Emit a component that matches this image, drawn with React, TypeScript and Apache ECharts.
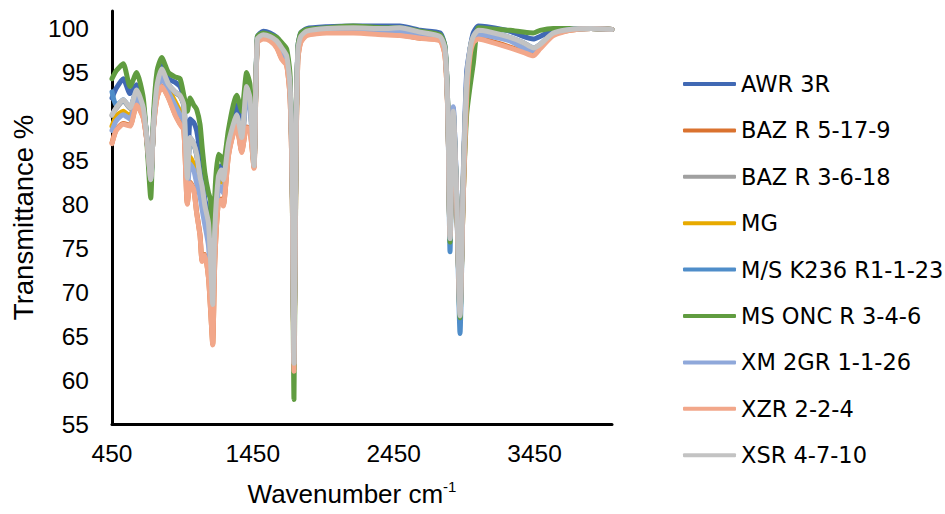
import React, { useEffect, useRef } from "react";
import * as echarts from "echarts";

// Shared wavenumber grid (cm-1) for every spectrum
const wavenumbers = [
  450, 480, 530, 578, 625, 672, 700, 725, 745, 770,
  803, 850, 897, 933, 960, 985, 1005, 1030, 1051, 1075,
  1090, 1110, 1135, 1150, 1165, 1180, 1205, 1225, 1240, 1276,
  1311, 1335, 1371, 1406, 1430, 1458, 1482, 1524, 1572, 1619,
  1655, 1690, 1714, 1730, 1742, 1756, 1770, 1790, 1832, 1974,
  2163, 2376, 2494, 2637, 2779, 2814, 2835, 2850, 2862, 2873,
  2897, 2921, 2944, 2968, 2992, 3015, 3051, 3110, 3276, 3370,
  3441, 3489, 3583, 3702, 3850, 4000,
];

const seriesNames = [
  "AWR 3R",
  "BAZ R 5-17-9",
  "BAZ R 3-6-18",
  "MG",
  "M/S K236 R1-1-23",
  "MS ONC R 3-4-6",
  "XM 2GR 1-1-26",
  "XZR 2-2-4",
  "XSR 4-7-10",
];

const seriesColors = [
  "#4169B4", "#DA722F", "#A0A0A0", "#E8AA00", "#4F8DC9",
  "#609C40", "#8FA8DA", "#F2A78A", "#C3C3C3",
];

// Transmittance % for each sample
const awr3r = [
  92.1, 93.2, 94.3, 92.6, 93.6, 91.3, 86.9, 82.4, 89.5, 94.3,
  95.8, 94.3, 93.9, 93.4, 92.1, 83.4, 89.7, 89.3, 88.4, 85.7,
  83.1, 80.5, 78.6, 74.2, 69.4, 77.9, 83.9, 84.4, 83.5, 87.6,
  90.2, 91.3, 88.7, 94.1, 92.8, 85.0, 99.1, 99.7, 99.5, 99.0,
  98.2, 97.3, 93.9, 82.4, 62.3, 86.5, 98.0, 99.5, 100.0, 100.2,
  100.3, 100.3, 100.3, 99.8, 99.5, 98.0, 90.6, 76.4, 85.4, 91.0,
  81.3, 67.9, 83.5, 95.0, 97.7, 99.5, 100.3, 100.2, 99.7, 99.1,
  98.8, 99.1, 99.8, 100.0, 100.0, 99.9,
];

const baz5179 = [
  87.0, 88.5, 89.2, 89.0, 91.4, 89.9, 86.9, 83.1, 88.8, 92.2,
  93.5, 92.2, 90.3, 89.2, 88.5, 80.1, 82.5, 81.8, 79.1, 76.5,
  73.6, 74.3, 71.7, 68.0, 64.1, 73.6, 80.3, 80.6, 79.9, 85.5,
  88.1, 89.0, 86.0, 88.8, 88.5, 84.2, 98.5, 98.9, 98.7, 97.9,
  96.6, 95.9, 92.2, 81.0, 61.2, 84.7, 96.6, 98.5, 99.3, 99.6,
  99.6, 99.4, 99.3, 98.9, 98.7, 97.0, 89.9, 76.5, 84.0, 89.6,
  80.3, 68.0, 81.0, 92.2, 97.0, 98.5, 98.9, 98.7, 97.9, 97.4,
  97.0, 97.8, 99.3, 99.8, 100.0, 99.9,
];

const baz3618 = [
  90.1, 90.9, 91.8, 90.9, 92.9, 90.9, 87.1, 82.8, 89.0, 93.5,
  95.3, 93.6, 92.7, 92.3, 91.2, 83.0, 87.5, 86.8, 85.6, 83.0,
  81.9, 79.7, 77.8, 73.4, 68.6, 77.1, 83.0, 83.8, 82.7, 86.8,
  89.0, 90.1, 87.5, 93.3, 92.0, 84.4, 98.7, 99.2, 99.0, 98.5,
  97.7, 96.8, 93.5, 82.7, 61.9, 86.4, 97.6, 99.0, 99.6, 99.9,
  100.0, 99.9, 100.0, 99.5, 99.0, 97.6, 90.1, 76.0, 84.5, 90.5,
  80.8, 67.3, 82.7, 93.8, 97.6, 99.0, 99.7, 99.6, 98.9, 98.3,
  97.7, 98.1, 99.4, 99.9, 100.0, 99.9,
];

const mg = [
  88.9, 90.0, 90.6, 90.0, 92.4, 90.6, 87.0, 83.0, 89.1, 93.2,
  94.9, 93.2, 91.7, 90.6, 89.8, 82.4, 85.4, 84.6, 83.9, 82.0,
  80.9, 79.0, 77.2, 73.1, 68.3, 76.8, 82.6, 83.1, 82.4, 86.5,
  88.7, 89.8, 87.2, 92.8, 91.7, 84.4, 98.7, 99.2, 99.0, 98.5,
  97.6, 96.7, 93.3, 82.5, 61.8, 86.2, 97.5, 99.0, 99.6, 99.9,
  100.0, 99.9, 100.0, 99.5, 99.0, 97.6, 90.3, 76.2, 84.7, 90.5,
  80.9, 67.4, 82.7, 93.7, 97.6, 99.0, 99.7, 99.6, 98.9, 98.3,
  97.7, 98.1, 99.4, 99.9, 100.0, 99.9,
];

const msK236 = [
  92.8, 91.2, 91.9, 91.0, 93.0, 91.0, 87.2, 82.8, 89.1, 93.6,
  95.4, 93.7, 92.8, 92.4, 91.3, 83.0, 87.6, 86.9, 85.7, 83.1,
  82.0, 79.8, 77.9, 73.5, 68.6, 77.2, 83.1, 83.9, 82.8, 86.9,
  89.1, 90.2, 87.6, 93.4, 92.1, 84.4, 98.8, 99.3, 99.1, 98.6,
  97.8, 96.9, 93.6, 82.8, 61.9, 86.5, 97.7, 99.1, 99.7, 100.0,
  100.1, 100.0, 100.1, 99.6, 99.1, 97.7, 90.0, 74.6, 84.4, 90.4,
  80.5, 65.3, 82.4, 93.8, 97.7, 99.1, 99.8, 99.7, 99.0, 98.4,
  97.8, 98.2, 99.5, 99.9, 100.0, 99.9,
];

const msOnc = [
  94.3, 95.2, 96.0, 93.4, 95.0, 92.1, 86.5, 80.7, 90.2, 95.2,
  96.7, 95.0, 94.5, 94.3, 92.4, 90.6, 92.1, 91.3, 90.8, 89.1,
  86.5, 83.5, 81.3, 80.5, 68.6, 80.9, 85.7, 85.4, 84.6, 88.4,
  91.3, 92.4, 90.6, 95.0, 93.6, 84.6, 99.1, 99.5, 99.3, 99.0,
  98.4, 97.7, 94.7, 80.9, 57.8, 84.6, 98.0, 99.5, 99.9, 100.1,
  100.3, 100.1, 100.1, 99.7, 99.3, 98.0, 90.6, 75.7, 84.6, 89.8,
  80.9, 67.1, 80.9, 90.2, 93.4, 96.0, 100.1, 100.0, 99.8, 99.6,
  99.5, 99.8, 100.0, 100.0, 100.0, 99.9,
];

const xm2gr = [
  88.4, 89.5, 90.2, 89.7, 92.1, 90.2, 86.9, 82.9, 88.9, 92.8,
  94.5, 92.8, 91.3, 90.2, 89.5, 81.7, 84.6, 83.9, 82.4, 80.9,
  79.4, 77.6, 75.3, 71.2, 67.5, 75.7, 81.7, 82.0, 81.3, 86.1,
  88.5, 89.5, 86.9, 92.1, 91.0, 84.3, 98.6, 99.1, 98.8, 98.2,
  97.3, 96.4, 92.8, 81.7, 61.9, 85.8, 97.1, 98.8, 99.5, 99.8,
  99.9, 99.7, 99.7, 99.3, 99.0, 97.5, 90.4, 76.1, 85.4, 91.1,
  81.3, 67.5, 82.4, 94.3, 97.7, 98.8, 99.3, 99.2, 98.6, 97.8,
  97.5, 98.1, 99.4, 99.9, 100.0, 99.9,
];

const xzr = [
  86.9, 88.4, 89.1, 88.9, 91.3, 89.8, 86.9, 83.1, 88.7, 92.1,
  93.4, 92.1, 90.2, 89.1, 88.4, 80.0, 82.4, 81.7, 79.0, 76.4,
  73.5, 74.2, 71.6, 67.9, 64.0, 73.5, 80.2, 80.5, 79.8, 85.4,
  88.0, 88.9, 85.9, 88.7, 88.4, 84.1, 98.4, 98.8, 98.6, 97.8,
  96.5, 95.8, 92.1, 80.9, 61.0, 84.6, 96.5, 98.4, 99.2, 99.5,
  99.5, 99.3, 99.2, 98.9, 98.6, 96.9, 89.8, 76.4, 83.9, 89.5,
  80.2, 67.9, 80.9, 92.1, 96.9, 98.4, 98.8, 98.6, 97.8, 97.3,
  96.9, 97.7, 99.2, 99.8, 100.0, 99.9,
];

const xsr = [
  90.2, 91.0, 91.9, 91.0, 93.0, 91.0, 87.2, 82.8, 89.1, 93.6,
  95.4, 93.7, 92.8, 92.4, 91.3, 83.0, 87.6, 86.9, 85.7, 83.1,
  82.0, 79.8, 77.9, 73.5, 68.6, 77.2, 83.1, 83.9, 82.8, 86.9,
  89.1, 90.2, 87.6, 93.4, 92.1, 84.4, 98.8, 99.3, 99.1, 98.6,
  97.8, 96.9, 93.6, 82.8, 61.9, 86.5, 97.7, 99.1, 99.7, 100.0,
  100.1, 100.0, 100.1, 99.6, 99.1, 97.7, 90.2, 76.1, 84.6, 90.6,
  80.9, 67.3, 82.8, 93.9, 97.7, 99.1, 99.8, 99.7, 99.0, 98.4,
  97.8, 98.2, 99.5, 99.9, 100.0, 99.9,
];

const spectra = [awr3r, baz5179, baz3618, mg, msK236, msOnc, xm2gr, xzr, xsr];

const xTicks = { min: 450, max: 4000, interval: 1000 };
const yTicks = { min: 55, max: 102, interval: 5 };

const sansFont = "'Liberation Sans', Arial, sans-serif";
const legendFont = "'DejaVu Sans', Verdana, sans-serif";

// Plain integer labels, no thousands separator
const plainNumber = (v: number) => String(Math.round(v));

export default function App() {
  const ref = useRef<HTMLDivElement>(null);

  useEffect(() => {
    if (!ref.current) return;
    const chart = echarts.init(ref.current, null, { renderer: "svg" });

    chart.setOption({
      animation: false,
      backgroundColor: "#ffffff",
      grid: { left: 112, right: 333, top: 11, bottom: 82, containLabel: false },
      xAxis: {
        type: "value",
        min: xTicks.min,
        max: xTicks.max,
        interval: xTicks.interval,
        axisLine: { show: true, lineStyle: { color: "#000", width: 3 } },
        axisTick: { show: false },
        splitLine: { show: false },
        axisLabel: {
          fontFamily: sansFont,
          fontSize: 24.5,
          color: "#000",
          margin: 17,
          showMaxLabel: false,
          formatter: plainNumber,
        },
        name: "Wavenumber cm{sup|-1}",
        nameLocation: "middle",
        nameGap: 55,
        nameTextStyle: {
          fontFamily: sansFont,
          fontSize: 26,
          color: "#000",
          lineHeight: 30,
          padding: [0, 20, 0, 0],
          rich: {
            sup: {
              fontFamily: sansFont,
              fontSize: 15,
              color: "#000",
              lineHeight: 20,
              verticalAlign: "top",
            },
          },
        },
      },
      yAxis: {
        type: "value",
        min: yTicks.min,
        max: yTicks.max,
        interval: yTicks.interval,
        axisLine: { show: true, lineStyle: { color: "#000", width: 3 } },
        axisTick: { show: false },
        splitLine: { show: false },
        axisLabel: {
          fontFamily: sansFont,
          fontSize: 24.5,
          color: "#000",
          margin: 23,
          showMaxLabel: false,
          formatter: plainNumber,
        },
        name: "Transmittance %",
        nameLocation: "middle",
        nameGap: 74,
        nameTextStyle: { fontFamily: sansFont, fontSize: 27.5, color: "#000" },
      },
      legend: {
        orient: "vertical",
        left: 678,
        top: 67,
        itemWidth: 53,
        itemHeight: 4,
        itemGap: 22.4,
        icon: "roundRect",
        data: seriesNames,
        textStyle: {
          fontFamily: legendFont,
          fontSize: 22.5,
          color: "#000",
          lineHeight: 24,
        },
      },
      series: seriesNames.map((name, i) => ({
        name,
        type: "line",
        data: wavenumbers.map((w, j) => [w, spectra[i][j]]),
        showSymbol: false,
        symbol: "none",
        smooth: 0.2,
        color: seriesColors[i],
        lineStyle: { width: 5, color: seriesColors[i], cap: "round", join: "round" },
        emphasis: { disabled: true },
      })),
    });

    return () => chart.dispose();
  }, []);

  return (
    <div
      ref={ref}
      style={{ position: "absolute", left: 0, top: 0, width: 945, height: 514 }}
    />
  );
}
